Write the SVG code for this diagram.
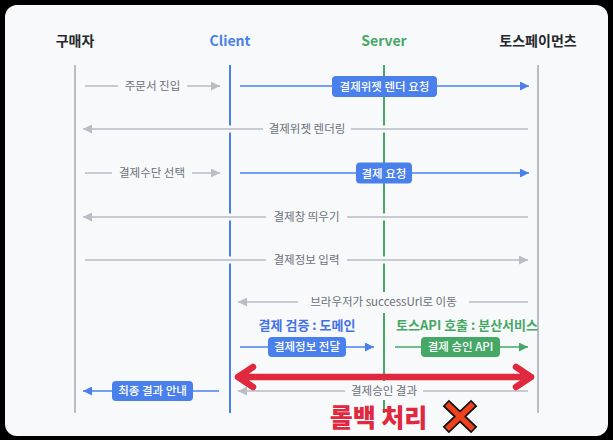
<svg xmlns="http://www.w3.org/2000/svg" width="613" height="440" viewBox="0 0 613 440">
<style>
text{font-family:"Noto Sans CJK KR","Noto Sans",sans-serif}
.h{font-size:14px;font-weight:700;text-anchor:middle}
.lbl{font-size:11.5px;fill:#6b7079;text-anchor:middle}
.bt{font-size:11.5px;fill:#fff;text-anchor:middle;font-weight:500}
.sec{font-size:13px;font-weight:700;text-anchor:middle}
.life{stroke-width:2;fill:none}
.halo{stroke:#f8f9fa;stroke-width:7;fill:none}
.ga{stroke:#b9bdc4;stroke-width:1.5;fill:none}
.ba{stroke:#4a80ec;stroke-width:1.5;fill:none}
.gr{stroke:#45a866;stroke-width:1.5;fill:none}
.bg{fill:#f8f9fa}
.bbox{fill:#4a80ec}
.gbox{fill:#45a866}
</style>
<defs>
<marker id="mg" markerUnits="userSpaceOnUse" markerWidth="9" markerHeight="9" refX="9" refY="4.5" orient="auto"><path d="M0,0 L9,4.5 L0,9 z" fill="#b9bdc4"/></marker>
<marker id="mb" markerUnits="userSpaceOnUse" markerWidth="9" markerHeight="9" refX="9" refY="4.5" orient="auto"><path d="M0,0 L9,4.5 L0,9 z" fill="#4a80ec"/></marker>
<marker id="mgr" markerUnits="userSpaceOnUse" markerWidth="9" markerHeight="9" refX="9" refY="4.5" orient="auto"><path d="M0,0 L9,4.5 L0,9 z" fill="#45a866"/></marker>
</defs>
<rect x="0" y="0" width="613" height="440" fill="#000"/>
<rect x="5" y="5" width="603" height="431" rx="12" fill="#f8f9fa"/>

<g id="buyer">
<text class="h" x="75" y="46" fill="#25282d">구매자</text>
<line class="life" x1="75" y1="65" x2="75" y2="413" stroke="#b9bdc4"/>
</g>
<g id="client">
<text class="h" x="230" y="46" fill="#4a80ec">Client</text>
<line class="life" x1="230" y1="65" x2="230" y2="413" stroke="#4a80ec"/>
</g>
<g id="server">
<text class="h" x="384" y="46" fill="#45a866">Server</text>
<line class="life" x1="384" y1="65" x2="384" y2="413" stroke="#45a866"/>
</g>
<g id="toss">
<text class="h" x="538" y="46" fill="#25282d">토스페이먼츠</text>
<line class="life" x1="538" y1="65" x2="538" y2="413" stroke="#b9bdc4"/>
</g>

<g id="connectors">
<!-- row 1 -->
<line class="ga" x1="85" y1="86" x2="220" y2="86" marker-end="url(#mg)"/>
<rect class="bg" x="118" y="77" width="69" height="18"/>
<text class="lbl" x="152.5" y="90">주문서 진입</text>
<line class="halo" x1="240" y1="86" x2="529" y2="86"/>
<line class="ba" x1="240" y1="86" x2="529" y2="86" marker-end="url(#mb)"/>
<rect class="bbox" x="332" y="76" width="105" height="21" rx="4"/>
<text class="bt" x="384.5" y="90.5">결제위젯 렌더 요청</text>
<!-- row 2 -->
<line class="halo" x1="528" y1="129" x2="83" y2="129"/>
<line class="ga" x1="528" y1="129" x2="83" y2="129" marker-end="url(#mg)"/>
<rect class="bg" x="263" y="120" width="88" height="18"/>
<text class="lbl" x="307" y="133">결제위젯 렌더링</text>
<!-- row 3 -->
<line class="ga" x1="85" y1="173" x2="220" y2="173" marker-end="url(#mg)"/>
<rect class="bg" x="112" y="164" width="80" height="18"/>
<text class="lbl" x="152" y="177">결제수단 선택</text>
<line class="halo" x1="240" y1="173" x2="529" y2="173"/>
<line class="ba" x1="240" y1="173" x2="529" y2="173" marker-end="url(#mb)"/>
<rect class="bbox" x="356" y="162.5" width="56" height="21" rx="4"/>
<text class="bt" x="384" y="177.5">결제 요청</text>
<!-- row 4 -->
<line class="halo" x1="528" y1="217" x2="83" y2="217"/>
<line class="ga" x1="528" y1="217" x2="83" y2="217" marker-end="url(#mg)"/>
<rect class="bg" x="266" y="208" width="81" height="18"/>
<text class="lbl" x="306.5" y="221">결제창 띄우기</text>
<!-- row 5 -->
<line class="halo" x1="85" y1="260" x2="528" y2="260"/>
<line class="ga" x1="85" y1="260" x2="528" y2="260" marker-end="url(#mg)"/>
<rect class="bg" x="266" y="251" width="81" height="18"/>
<text class="lbl" x="306.5" y="264">결제정보 입력</text>
<!-- row 6 -->
<line class="halo" x1="528" y1="302" x2="238" y2="302"/>
<line class="ga" x1="528" y1="302" x2="238" y2="302" marker-end="url(#mg)"/>
<rect class="bg" x="298" y="292" width="171" height="21"/>
<text class="lbl" x="383.5" y="306">브라우저가 successUrl로 이동</text>
<text class="sec" x="307" y="330" fill="#3f72e8">결제 검증 : 도메인</text>
<text class="sec" x="467" y="330" fill="#45a866">토스API 호출 : 분산서비스</text>
<!-- row 7 -->
<line class="ba" x1="240" y1="347" x2="374" y2="347" marker-end="url(#mb)"/>
<rect class="bbox" x="268" y="337" width="78" height="20" rx="4"/>
<text class="bt" x="307" y="351">결제정보 전달</text>
<line class="gr" x1="395" y1="347" x2="528" y2="347" marker-end="url(#mgr)"/>
<rect class="gbox" x="421" y="337" width="79" height="20" rx="4"/>
<text class="bt" x="460.5" y="351">결제 승인 API</text>
<!-- row 8 -->
<line class="halo" x1="528" y1="391" x2="238" y2="391"/>
<line class="ga" x1="528" y1="391" x2="238" y2="391" marker-end="url(#mg)"/>
<rect class="bg" x="345" y="381" width="78" height="19"/>
<text class="lbl" x="384" y="394.5">결제승인 결과</text>
<line class="ba" x1="219" y1="391" x2="83" y2="391" marker-end="url(#mb)"/>
<rect class="bbox" x="112" y="381" width="81" height="20" rx="4"/>
<text class="bt" x="152.5" y="395">최종 결과 안내</text>
<!-- red rollback arrow -->
<path d="M238,377 H531 M253,367 L238,377 L253,387 M516,367 L531,377 L516,387" fill="none" stroke="#e0283f" stroke-width="6.5" stroke-linecap="round" stroke-linejoin="round"/>
</g>

<g id="rollback">
<text x="378.5" y="427" font-size="25" font-weight="900" fill="#e0283f" text-anchor="middle">롤백 처리</text>
<path d="M449,406 L471,427 M471,406 L449,427" stroke="#111" stroke-width="9" stroke-linecap="square" fill="none"/>
<path d="M449,406 L471,427 M471,406 L449,427" stroke="#f0401e" stroke-width="5.5" stroke-linecap="square" fill="none"/>
</g>
</svg>
